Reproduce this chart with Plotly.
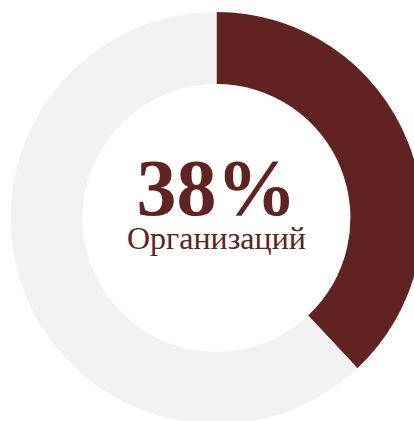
import plotly.graph_objects as go

labels = ["Организаций", "Прочие"]
values = [38, 62]
colors = ["#612321", "#f2f2f2"]
big_label = "38%"
sub_label = "Организаций"

W, H = 440, 440
cx, cy, r = 216.5, 218, 206  # page px

fig = go.Figure(go.Pie(
    labels=labels, values=values, hole=0.65, sort=False,
    direction="clockwise", rotation=0,
    marker=dict(colors=colors, line=dict(width=0)),
    textinfo="none", hoverinfo="label+percent",
    domain=dict(x=[(cx - r) / W, (cx + r) / W],
                y=[(H - cy - r) / H, (H - cy + r) / H]),
    showlegend=False,
))

fig.add_annotation(
    text=(f"<span style='font-size:80px'><b>{big_label}</b></span><br>"
          f"<span style='font-size:32px'>{sub_label}</span>"),
    x=cx / W, y=(H - 200) / H,
    xref="paper", yref="paper", showarrow=False,
    xanchor="center", yanchor="middle", align="center",
    font=dict(family="Liberation Serif", size=26, color="#612321"))

fig.update_layout(width=W, height=H, margin=dict(l=0, r=0, t=0, b=0),
                  paper_bgcolor="white", plot_bgcolor="white")

fig.write_html("out.html", config={"displayModeBar": False}, post_script=(
    "document.body.style.margin='0';"
    "document.body.style.overflow='hidden';"
    "document.documentElement.style.overflow='hidden';"))
